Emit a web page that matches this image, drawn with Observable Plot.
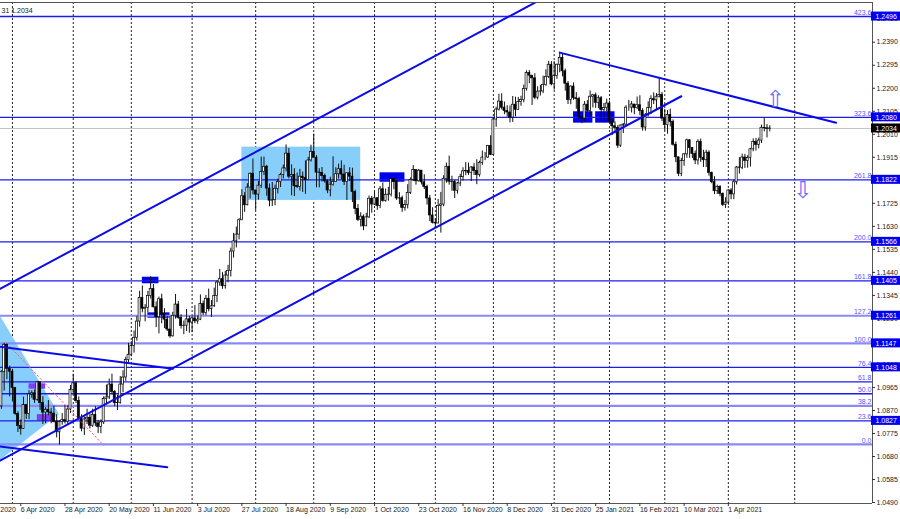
<!DOCTYPE html>
<html><head><meta charset="utf-8">
<script src="https://cdn.jsdelivr.net/npm/d3@7"></script>
<script src="https://cdn.jsdelivr.net/npm/@observablehq/plot@0.6"></script>
<style>body{margin:0;background:#fff}#chart svg{display:block;background:#fff}</style>
</head><body><div id="chart"></div>
<script>
// ---- EUR/USD daily bars (from 2020-03-26), open = previous close ----
const firstBar = "2020-03-26";
const firstOpen = 1.0887;
const close = [
1.1028,1.1141,1.1042,1.1030,
1.0963,1.0856,1.0806,1.0794,1.0892,1.0855,1.0936,1.0941,1.0914,1.0986,1.0901,1.0861,1.0873,1.0862,1.0857,1.0823,1.0780,1.0822,1.0830,1.0824,1.0874,1.0954,
1.0982,1.0909,1.0838,1.0795,1.0833,1.0840,1.0807,1.0851,1.0817,1.0802,1.0821,1.0917,1.0924,1.0977,1.0946,1.0900,1.0901,1.0977,1.1006,1.1078,1.1100,
1.1136,1.1170,1.1237,1.1335,1.1290,1.1294,1.1343,1.1371,1.1296,1.1255,1.1329,1.1265,1.1245,1.1204,1.1176,1.1261,1.1307,1.1252,1.1219,1.1220,1.1246,1.1233,
1.1250,1.1238,1.1245,1.1309,1.1273,1.1331,1.1288,1.1300,1.1342,1.1398,1.1412,1.1383,1.1427,1.1446,1.1526,1.1568,1.1596,1.1655,1.1754,1.1717,1.1790,1.1847,1.1778,
1.1761,1.1798,1.1854,1.1876,1.1786,1.1736,1.1738,1.1785,1.1813,1.1842,1.1869,1.1930,1.1835,1.1842,1.1796,1.1793,1.1835,1.1829,1.1821,1.1902,1.1937,
1.1913,1.1852,1.1851,1.1838,1.1816,1.1778,1.1802,1.1813,1.1845,1.1866,1.1844,1.1814,1.1849,1.1835,1.1772,1.1702,1.1657,1.1670,1.1630,1.1667,1.1744,1.1720,
1.1746,1.1714,1.1783,1.1735,1.1760,1.1761,1.1825,1.1813,1.1745,1.1746,1.1706,1.1718,1.1768,1.1822,1.1862,1.1816,1.1860,1.1812,1.1792,1.1745,1.1675,1.1645,
1.1642,1.1714,1.1720,1.1826,1.1876,1.1814,1.1813,1.1777,1.1807,1.1833,1.1857,1.1858,1.1850,1.1873,1.1858,1.1842,1.1892,1.1914,1.1914,1.1962,1.1925,
1.2071,1.2112,1.2145,1.2120,1.2106,1.2100,1.2079,1.2132,1.2111,1.2143,1.2151,1.2197,1.2263,1.2252,1.2241,1.2161,1.2186,1.2187,1.2213,1.2247,1.2297,1.2216,
1.2250,1.2297,1.2325,1.2270,1.2219,1.2152,1.2207,1.2159,1.2155,1.2080,1.2075,1.2132,1.2107,1.2165,1.2171,1.2140,1.2159,1.2110,1.2118,1.2137,
1.2062,1.2043,1.2036,1.1963,1.2046,1.2050,1.2120,1.2120,1.2133,1.2118,1.2130,1.2106,1.2038,1.2091,1.2118,1.2155,1.2150,1.2165,1.2173,1.2075,
1.2048,1.2090,1.2061,1.1967,1.1915,1.1847,1.1900,1.1927,1.1985,1.1953,1.1929,1.1902,1.1979,1.1913,1.1903,1.1934,1.1850,1.1813,1.1775,1.1793,1.1764,1.1719,1.1728,
1.1778,1.1762,1.1812,1.1873,1.1872,1.1914,1.1900,1.1912,1.1948,1.1978,1.1966,1.1984,1.2037,1.2035,1.2032,1.2034];
const high = [
1.1034,1.1147,1.1145,1.1053,
1.1040,1.0965,1.0865,1.0831,1.0925,1.0893,1.0952,1.0951,1.0955,1.0990,1.0977,1.0927,1.0882,1.0911,1.0879,1.0888,1.0852,1.0828,1.0857,1.0890,1.0889,1.0973,
1.1019,1.0990,1.0926,1.0852,1.0844,1.0875,1.0856,1.0875,1.0886,1.0829,1.0831,1.0926,1.0975,1.1000,1.1020,1.0952,1.0932,1.1010,1.1034,1.1090,1.1147,
1.1154,1.1198,1.1257,1.1362,1.1384,1.1307,1.1361,1.1422,1.1390,1.1318,1.1338,1.1350,1.1290,1.1258,1.1257,1.1275,1.1349,1.1320,1.1265,1.1239,1.1287,1.1258,
1.1261,1.1303,1.1260,1.1347,1.1322,1.1345,1.1371,1.1324,1.1375,1.1405,1.1452,1.1439,1.1444,1.1469,1.1540,1.1601,1.1627,1.1662,1.1781,1.1769,1.1806,1.1850,1.1908,
1.1779,1.1815,1.1916,1.1916,1.1882,1.1805,1.1811,1.1800,1.1825,1.1849,1.1883,1.1966,1.1951,1.1884,1.1868,1.1850,1.1865,1.1854,1.1900,1.1915,1.1965,
1.2011,1.1922,1.1868,1.1873,1.1846,1.1823,1.1833,1.1917,1.1872,1.1887,1.1900,1.1882,1.1851,1.1872,1.1870,1.1779,1.1720,1.1686,1.1677,1.1684,1.1755,1.1754,
1.1771,1.1748,1.1795,1.1809,1.1784,1.1791,1.1832,1.1830,1.1821,1.1769,1.1755,1.1737,1.1802,1.1830,1.1881,1.1863,1.1865,1.1860,1.1843,1.1800,1.1758,1.1707,
1.1660,1.1741,1.1770,1.1839,1.1891,1.1920,1.1837,1.1820,1.1812,1.1845,1.1872,1.1893,1.1891,1.1876,1.1890,1.1905,1.1899,1.1941,1.1935,1.1964,1.2004,
1.2077,1.2122,1.2175,1.2177,1.2143,1.2128,1.2127,1.2166,1.2163,1.2162,1.2167,1.2213,1.2272,1.2273,1.2250,1.2260,1.2206,1.2212,1.2250,1.2276,1.2311,1.2310,
1.2310,1.2300,1.2349,1.2340,1.2279,1.2228,1.2210,1.2222,1.2182,1.2163,1.2086,1.2145,1.2149,1.2189,1.2175,1.2180,1.2169,1.2166,1.2137,1.2155,
1.2147,1.2075,1.2061,1.2045,1.2048,1.2054,1.2128,1.2150,1.2145,1.2131,1.2164,1.2169,1.2116,1.2095,1.2144,1.2169,1.2181,1.2178,1.2243,1.2183,
1.2113,1.2108,1.2114,1.2069,1.1978,1.1914,1.1911,1.1931,1.1990,1.1988,1.1952,1.1941,1.1988,1.1990,1.1944,1.1944,1.1942,1.1854,1.1835,1.1800,1.1798,1.1768,1.1748,
1.1781,1.1786,1.1822,1.1877,1.1914,1.1928,1.1927,1.1922,1.1952,1.1991,1.1993,1.1994,1.2048,1.2079,1.2050,1.2045];
const low = [
1.0875,1.0950,1.0997,1.0926,
1.0905,1.0850,1.0779,1.0768,1.0792,1.0833,1.0832,1.0920,1.0899,1.0908,1.0870,1.0812,1.0815,1.0848,1.0815,1.0819,1.0757,1.0727,1.0809,1.0814,1.0812,1.0858,
1.0935,1.0899,1.0830,1.0782,1.0767,1.0812,1.0794,1.0800,1.0803,1.0775,1.0774,1.0812,1.0896,1.0915,1.0935,1.0886,1.0870,1.0896,1.0943,1.0990,1.1066,
1.1092,1.1107,1.1156,1.1214,1.1273,1.1236,1.1273,1.1330,1.1293,1.1212,1.1186,1.1228,1.1208,1.1196,1.1168,1.1173,1.1247,1.1247,1.1206,1.1183,1.1196,1.1189,
1.1191,1.1228,1.1226,1.1241,1.1262,1.1261,1.1277,1.1254,1.1295,1.1315,1.1383,1.1370,1.1371,1.1397,1.1421,1.1499,1.1541,1.1574,1.1656,1.1688,1.1715,1.1743,1.1760,
1.1696,1.1738,1.1786,1.1840,1.1754,1.1711,1.1712,1.1715,1.1764,1.1790,1.1826,1.1855,1.1826,1.1756,1.1753,1.1786,1.1776,1.1770,1.1762,1.1823,1.1895,
1.1913,1.1789,1.1789,1.1813,1.1808,1.1765,1.1752,1.1796,1.1812,1.1825,1.1823,1.1799,1.1737,1.1815,1.1728,1.1678,1.1650,1.1627,1.1612,1.1633,1.1662,1.1684,
1.1716,1.1696,1.1703,1.1730,1.1730,1.1734,1.1751,1.1781,1.1737,1.1720,1.1688,1.1693,1.1702,1.1762,1.1815,1.1800,1.1813,1.1801,1.1782,1.1718,1.1650,1.1640,
1.1622,1.1640,1.1602,1.1711,1.1808,1.1800,1.1775,1.1745,1.1763,1.1794,1.1817,1.1839,1.1840,1.1815,1.1840,1.1802,1.1833,1.1882,1.1901,1.1910,1.1922,
1.1925,1.2039,1.2106,1.2111,1.2091,1.2081,1.2057,1.2059,1.2082,1.2109,1.2126,1.2140,1.2188,1.2219,1.2129,1.2153,1.2152,1.2168,1.2178,1.2208,1.2240,1.2210,
1.2192,1.2237,1.2264,1.2247,1.2188,1.2133,1.2132,1.2150,1.2113,1.2070,1.2054,1.2062,1.2084,1.2078,1.2119,1.2117,1.2116,1.2059,1.2058,1.2102,
1.2053,1.2005,1.2012,1.1952,1.1956,1.2013,1.2042,1.2105,1.2098,1.2091,1.2112,1.2087,1.2023,1.2023,1.2081,1.2091,1.2133,1.2110,1.2160,1.2062,
1.2023,1.2010,1.2040,1.1961,1.1893,1.1835,1.1835,1.1878,1.1911,1.1911,1.1910,1.1885,1.1883,1.1894,1.1873,1.1873,1.1837,1.1806,1.1761,1.1762,1.1752,1.1712,1.1704,
1.1717,1.1740,1.1740,1.1801,1.1846,1.1864,1.1869,1.1870,1.1875,1.1938,1.1941,1.1950,1.1972,1.2020,1.1995,1.2020];

// ---- axis texts ----
const xLabelDates = ["2020-03-13","2020-04-06","2020-04-28","2020-05-20","2020-06-11","2020-07-03","2020-07-27","2020-08-18","2020-09-09","2020-10-01","2020-10-23","2020-11-16","2020-12-08","2020-12-31","2021-01-25","2021-02-16","2021-03-10","2021-04-01"];
const gridDates = ["2020-04-01","2020-05-01","2020-06-01","2020-07-01","2020-08-03","2020-09-01","2020-10-01","2020-11-02","2020-12-01","2021-01-04","2021-02-01","2021-03-01","2021-04-01","2021-05-05"];
const yTicks = [1.0490,1.0585,1.0680,1.0775,1.0870,1.0965,1.1060,1.1155,1.1250,1.1345,1.1440,1.1535,1.1630,1.1725,1.1820,1.1915,1.2010,1.2105,1.2200,1.2295,1.2390,1.2485];
const headerText = "31 1.2034";

// ---- levels ----
const fibPct   = ["0.0","23.6","38.2","50.0","61.8","76.4","100.0","127.2","161.8","200.0","261.8","323.6","423.6"];
const fibPrice = [1.0730,1.0827,1.0889,1.0939,1.0988,1.1048,1.1147,1.1261,1.1405,1.1566,1.1822,1.2080,1.2496];
const boxLevels = [1.2496,1.2080,1.1822,1.1566,1.1405,1.1261,1.1147,1.1048,1.0827];
const lastPrice = 1.2034;

// ---- drawing objects (date, price) ----
const upperChannel = [["2020-03-25",1.1369],["2021-01-04",1.2596]];
const lowerChannel = [["2020-03-25",1.0660],["2021-03-09",1.2167]];
const resistance   = [["2021-01-06",1.2347],["2021-05-26",1.2058]];
const fallTop      = [["2020-03-25",1.1134],["2020-06-22",1.1042]];
const fallBottom   = [["2020-03-25",1.0722],["2020-06-18",1.0636]];
const redDotted    = [["2020-03-31",1.1135],["2020-05-18",1.0726]];
const triangle     = [["2020-03-25",1.0658,1.1271],["2020-04-24",1.0853,1.0853]];
const zone         = [["2020-07-27","2020-09-24",1.1737,1.1957]];
const blueBoxes    = [["2020-06-05","2020-06-15",1.1393,1.1420],["2020-06-09","2020-06-19",1.1251,1.1273],
                      ["2020-10-05","2020-10-16",1.1812,1.1851],["2021-01-13","2021-01-22",1.2056,1.2103],
                      ["2021-01-25","2021-02-03",1.2056,1.2103]];
const purpleBoxes  = [["2020-04-09","2020-04-17",1.0958,1.0980],["2020-04-14","2020-04-22",1.0826,1.0853]];
const arrows       = [["2021-04-26",1.2153,"⇧"],["2021-05-10",1.1778,"⇩"]];

// ---- trading calendar (weekdays, no Dec 25 / Jan 1) ----
const fmt = d3.utcFormat("%Y-%m-%d");
const md = d3.utcFormat("%m-%d");
const cal = d3.utcDays(new Date("2020-03-02"), new Date("2021-07-01"))
  .filter(d => d.getUTCDay() % 6 !== 0 && md(d) !== "12-25" && md(d) !== "01-01");
const base = cal.findIndex(d => fmt(d) === firstBar);
const idx = new Map(cal.map((d, k) => [fmt(d), k - base]));
const X = s => idx.get(s);
const lblFmt = d3.utcFormat("%-d %b %Y");

const bars = close.map((c, k) => {
  const o = k ? close[k - 1] : firstOpen;
  return {i: k, o, c, h: Math.max(high[k], o, c), l: Math.min(low[k], o, c)};
});

const xDom = [-0.3256, 315.16];
const yDom = [1.0486, 1.2554];
const lineObj = (arr, opts) => Plot.line(arr, {x: d => X(d[0]), y: d => d[1], clip: true, ...opts});
const BLUE = "#0b0be8";
const lightSet = new Set(["0.0","38.2","100.0","127.2"]);
const fibs = fibPct.map((p, k) => ({p, v: fibPrice[k], light: lightSet.has(p)}));
const font = "Liberation Sans, Arial, sans-serif";

const chart = Plot.plot({
  width: 900, height: 519,
  marginLeft: 0, marginRight: 28, marginTop: 2, marginBottom: 16,
  x: {domain: xDom, axis: null},
  y: {domain: yDom, axis: null},
  style: {fontFamily: font, fontSize: "7px", background: "#fff"},
  marks: [
    Plot.ruleX(gridDates, {x: X, stroke: "#222", strokeDasharray: "2,2", strokeWidth: 1}),
    Plot.rect(zone, {x1: d => X(d[0]), x2: d => X(d[1]), y1: d => d[2], y2: d => d[3], fill: "#87cefa"}),
    Plot.areaY(triangle, {x: d => X(d[0]), y1: d => d[1], y2: d => d[2], fill: "#87cefa", clip: true}),
    Plot.rect(blueBoxes, {x1: d => X(d[0]), x2: d => X(d[1]), y1: d => d[2], y2: d => d[3], fill: "#0000ee"}),
    Plot.rect(purpleBoxes, {x1: d => X(d[0]), x2: d => X(d[1]), y1: d => d[2], y2: d => d[3], fill: "#8040f0"}),
    Plot.ruleY([lastPrice], {stroke: "#c4c4c4", strokeWidth: 1}),
    Plot.ruleY(fibs.filter(d => d.light), {y: "v", stroke: "#8a8af6", strokeWidth: 2.2}),
    Plot.ruleY(fibs.filter(d => !d.light), {y: "v", stroke: "#1c1cf0", strokeWidth: 1.4}),
    // candles
    Plot.ruleX(bars, {x: "i", y1: "l", y2: "h", stroke: "#111", strokeWidth: 1}),
    Plot.rect(bars, {x1: "i", x2: "i", y1: "o", y2: "c", insetLeft: -1, insetRight: -1,
      fill: d => d.c >= d.o ? "#ffffff" : "#000000", stroke: "#000", strokeWidth: 0.7}),
    // trend objects
    lineObj(redDotted, {stroke: "#ff5a5a", strokeWidth: 1, strokeDasharray: "1.5,2.5"}),
    lineObj(upperChannel, {stroke: BLUE, strokeWidth: 2}),
    lineObj(lowerChannel, {stroke: BLUE, strokeWidth: 2}),
    lineObj(resistance, {stroke: BLUE, strokeWidth: 2}),
    lineObj(fallTop, {stroke: BLUE, strokeWidth: 2}),
    lineObj(fallBottom, {stroke: BLUE, strokeWidth: 2}),
    Plot.text(arrows, {x: d => X(d[0]), y: d => d[1], text: d => d[2], fill: "#6a6aff",
      fontSize: 23, fontFamily: "DejaVu Sans"}),
    // fib labels
    Plot.text(fibs, {x: xDom[1], y: "v", text: "p", textAnchor: "end", dx: -1, dy: -4, fill: "#5555ff", fontSize: 7}),
    // frame
    Plot.ruleY([yDom[0], yDom[1]], {stroke: "#555"}),
    Plot.ruleX([xDom[1]], {stroke: "#555"}),
    // y axis
    Plot.ruleY(yTicks, {y: d => d, x1: xDom[1], x2: xDom[1], insetRight: -3, stroke: "#333"}),
    Plot.text(yTicks, {x: xDom[1], y: d => d, text: d => d.toFixed(4), textAnchor: "start", dx: 4, fill: "#222", fontSize: 7}),
    Plot.rect(boxLevels, {x1: xDom[1], x2: xDom[1], y1: d => d, y2: d => d, insetLeft: -1, insetRight: -28,
      insetTop: -4.5, insetBottom: -4.5, fill: "#0000f0"}),
    Plot.text(boxLevels, {x: xDom[1], y: d => d, text: d => d.toFixed(4), textAnchor: "start", dx: 3, fill: "#fff", fontSize: 7}),
    Plot.rect([lastPrice], {x1: xDom[1], x2: xDom[1], y1: d => d, y2: d => d, insetLeft: -1, insetRight: -28,
      insetTop: -4.5, insetBottom: -4.5, fill: "#000"}),
    Plot.text([lastPrice], {x: xDom[1], y: d => d, text: d => d.toFixed(4), textAnchor: "start", dx: 3, fill: "#fff", fontSize: 7}),
    // x axis
    Plot.ruleX(xLabelDates, {x: X, y1: yDom[0], y2: yDom[0], insetBottom: -3, stroke: "#333"}),
    Plot.text(xLabelDates, {x: X, y: yDom[0], text: d => lblFmt(new Date(d)), textAnchor: "start",
      lineAnchor: "top", dy: 4, dx: 0, fill: "#222", fontSize: 7}),
    // header
    Plot.text([headerText], {frameAnchor: "top-left", text: d => d, textAnchor: "start", dx: 1, dy: 6, fill: "#222", fontSize: 7})
  ]
});
document.getElementById("chart").append(chart);
</script>
</body></html>
